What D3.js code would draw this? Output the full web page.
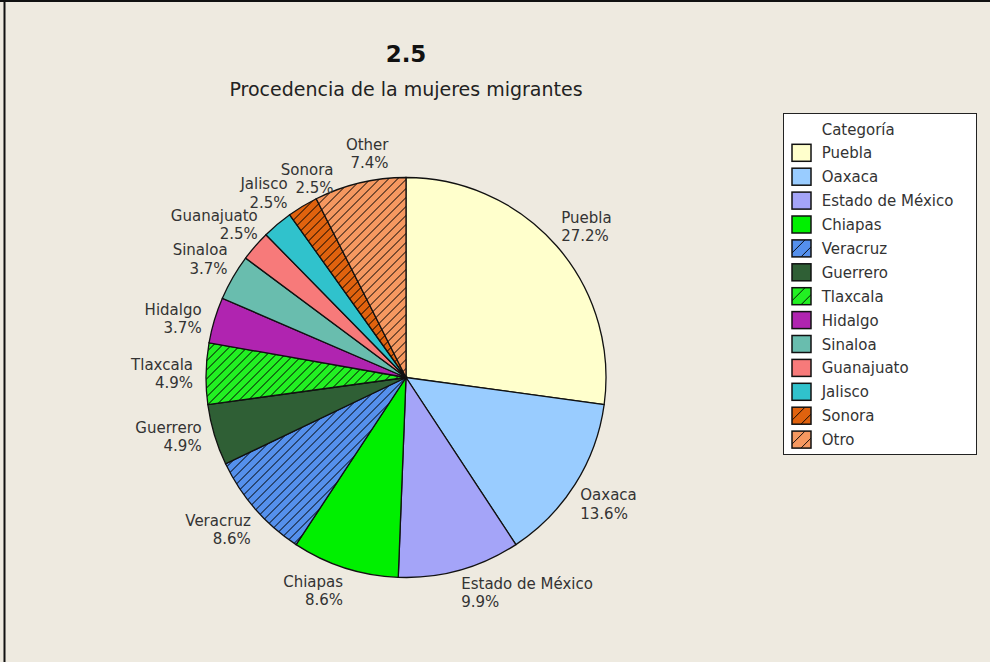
<!DOCTYPE html>
<html>
<head>
<meta charset="utf-8">
<script src="https://cdn.jsdelivr.net/npm/d3@7"></script>
<style>
  html, body { margin: 0; padding: 0; background: #EEEAE0; }
  svg { display: block; }
  text { font-family: "DejaVu Sans", Verdana, sans-serif; }
</style>
</head>
<body>
<svg id="chart" width="990" height="662"></svg>
<script>
// ---- data ----
const categories = ["Puebla", "Oaxaca", "Estado de México", "Chiapas", "Veracruz", "Guerrero",
  "Tlaxcala", "Hidalgo", "Sinaloa", "Guanajuato", "Jalisco", "Sonora", "Otro"];
const sliceNames = ["Puebla", "Oaxaca", "Estado de México", "Chiapas", "Veracruz", "Guerrero",
  "Tlaxcala", "Hidalgo", "Sinaloa", "Guanajuato", "Jalisco", "Sonora", "Other"];
const counts = [22, 11, 8, 7, 7, 4, 4, 3, 3, 2, 2, 2, 6];
const titleMain = "2.5";
const titleSub = "Procedencia de la mujeres migrantes";
const legendTitle = "Categoría";

// ---- styles ----
const colors = ["#FFFFCC", "#99CCFF", "#A4A4F8", "#00F000", "#5590EC", "#2F5F35",
  "#22F022", "#B024B0", "#69BDAE", "#F77A7A", "#30C2CC", "#E0620E", "#F59860"];
const hatched = [false, false, false, false, true, false, true, false, false, false, false, true, true];
// manual nudges for crowded labels [dx, dy]
const labelNudge = {9: [7, -2], 10: [14, -11], 11: [34, -7], 12: [30, -8]};

const svg = d3.select("#chart");
const W = 990, H = 662;
const cx = 406, cy = 377.5, R = 200, RL = 206;

// frame
svg.append("rect").attr("x", 0).attr("y", 0).attr("width", W).attr("height", H).attr("fill", "#EEEAE0");
svg.append("line").attr("x1", 0).attr("x2", W).attr("y1", 1).attr("y2", 1).attr("stroke", "#111").attr("stroke-width", 2);
svg.append("line").attr("x1", 4.5).attr("x2", 4.5).attr("y1", 0).attr("y2", H).attr("stroke", "#111").attr("stroke-width", 2);

// patterns
const defs = svg.append("defs");
function makePattern(id, color, size) {
  const p = defs.append("pattern").attr("id", id).attr("patternUnits", "userSpaceOnUse")
    .attr("width", size).attr("height", size);
  p.append("rect").attr("width", size).attr("height", size).attr("fill", color);
  p.append("path")
    .attr("d", `M0,${size} L${size},0 M${-size/2},${size/2} L${size/2},${-size/2} M${size/2},${size*1.5} L${size*1.5},${size/2}`)
    .attr("stroke", "#000").attr("stroke-width", 1);
}
colors.forEach((c, i) => {
  if (hatched[i]) {
    makePattern("hatch" + i, c, 9);
  }
});
const fillFor = i => hatched[i] ? `url(#hatch${i})` : colors[i];

// titles
svg.append("text").attr("x", cx).attr("y", 62).attr("text-anchor", "middle")
  .attr("font-size", 23).attr("font-weight", "bold").attr("fill", "#111").text(titleMain);
svg.append("text").attr("x", cx).attr("y", 95.5).attr("text-anchor", "middle")
  .attr("font-size", 19).attr("fill", "#222").text(titleSub);

// pie
const total = d3.sum(counts);
const pie = d3.pie().sort(null).value(d => d)(counts);
const arc = d3.arc().innerRadius(0).outerRadius(R);
const g = svg.append("g").attr("transform", `translate(${cx},${cy})`);
g.selectAll("path.slice").data(pie).join("path")
  .attr("class", "slice")
  .attr("d", arc)
  .attr("fill", (d, i) => fillFor(i))
  .attr("stroke", "#111").attr("stroke-width", 1.3);

// labels
const pct = d3.format(".1%");
const lineH = 18.5, capH = 11, blockH = capH + lineH;
pie.forEach((d, i) => {
  const a = (d.startAngle + d.endAngle) / 2;
  const sx = Math.sin(a), sy = -Math.cos(a);
  let px = cx + RL * sx, py = cy + RL * sy;
  const right = sx >= 0;
  const fromHoriz = Math.asin(Math.min(1, Math.abs(sy))) * 180 / Math.PI;
  let base1;
  let gap = 0;
  if (fromHoriz < 25) { base1 = py - blockH / 2 + capH; gap = 7; }
  else if (sy < 0) { base1 = py - 1 - lineH; }
  else { base1 = py + 2 + capH; }
  let x = right ? px + gap : px - gap;
  const n = labelNudge[i] || [0, 0];
  x += n[0]; base1 += n[1];
  const t = svg.append("text").attr("font-size", 15).attr("fill", "#333")
    .attr("text-anchor", right ? "start" : "end");
  t.append("tspan").attr("x", x).attr("y", base1).text(sliceNames[i]);
  t.append("tspan").attr("x", x).attr("y", base1 + lineH).text(pct(d.data / total));
});

// legend
const lg = svg.append("g");
const lx = 783.5, ly = 113.5, lw = 193, lh = 341;
lg.append("rect").attr("x", lx).attr("y", ly).attr("width", lw).attr("height", lh)
  .attr("fill", "#fff").attr("stroke", "#222").attr("stroke-width", 1);
lg.append("text").attr("x", 821.7).attr("y", 135).attr("font-size", 15).attr("fill", "#333").text(legendTitle);
const rowY = d3.scaleLinear().domain([0, 1]).range([158.3, 158.3 + 23.9]);
categories.forEach((c, i) => {
  const by = rowY(i);
  const sx0 = 792, sy0 = by - 14, sw = 19, sh = 17;
  if (hatched[i]) {
    const pid = "lhatch" + i;
    const p = defs.append("pattern").attr("id", pid).attr("patternUnits", "userSpaceOnUse")
      .attr("x", sx0).attr("y", sy0).attr("width", 13).attr("height", 13);
    p.append("rect").attr("width", 13).attr("height", 13).attr("fill", colors[i]);
    p.append("path").attr("d", "M0,13 L13,0 M-6.5,6.5 L6.5,-6.5 M6.5,19.5 L19.5,6.5")
      .attr("stroke", "#000").attr("stroke-width", 0.9);
  }
  lg.append("rect").attr("x", sx0).attr("y", sy0).attr("width", sw).attr("height", sh)
    .attr("fill", hatched[i] ? `url(#lhatch${i})` : colors[i])
    .attr("stroke", "#111").attr("stroke-width", 1.5);
  lg.append("text").attr("x", 821.7).attr("y", by).attr("font-size", 15).attr("fill", "#333").text(c);
});
</script>
</body>
</html>
